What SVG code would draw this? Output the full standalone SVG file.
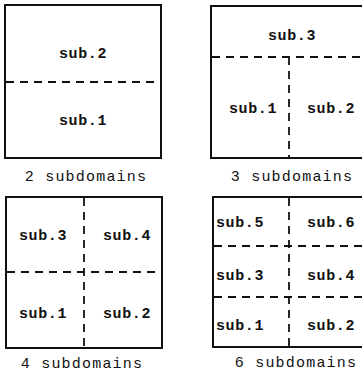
<svg xmlns="http://www.w3.org/2000/svg" width="362" height="375" viewBox="0 0 362 375">
<style>
.box{fill:#fff;stroke:#111;stroke-width:2}
.div{fill:none;stroke:#111;stroke-width:1.8;stroke-dasharray:8 6}
.lab{font-family:"Liberation Mono","Courier New",monospace;font-weight:bold;font-size:15px;text-anchor:middle;fill:#111;letter-spacing:0.6px}
.cap{font-family:"Liberation Mono","Courier New",monospace;font-size:15px;text-anchor:middle;fill:#111;letter-spacing:1.2px}
</style>
<rect width="362" height="375" fill="#fff"/>
<g id="panel-2">
<rect class="box" x="5" y="5" width="156" height="153"/>
<text class="lab" x="83" y="58">sub.2</text>
<text class="lab" x="83" y="125">sub.1</text>
<text class="cap" x="86" y="181">2 subdomains</text>
</g>
<g id="panel-3">
<rect class="box" x="211" y="6" width="157" height="152"/>
<text class="lab" x="292" y="40">sub.3</text>
<text class="lab" x="253" y="113">sub.1</text>
<text class="lab" x="331" y="113">sub.2</text>
<text class="cap" x="292" y="181">3 subdomains</text>
</g>
<g id="panel-4">
<rect class="box" x="6" y="197" width="156" height="151"/>
<text class="lab" x="43" y="240">sub.3</text>
<text class="lab" x="127" y="240">sub.4</text>
<text class="lab" x="43" y="318">sub.1</text>
<text class="lab" x="127" y="318">sub.2</text>
<text class="cap" x="82" y="368">4 subdomains</text>
</g>
<g id="panel-6">
<rect class="box" x="213" y="197" width="155" height="150"/>
<text class="lab" x="240" y="227">sub.5</text>
<text class="lab" x="331" y="227">sub.6</text>
<text class="lab" x="240" y="280">sub.3</text>
<text class="lab" x="331" y="280">sub.4</text>
<text class="lab" x="240" y="330">sub.1</text>
<text class="lab" x="331" y="330">sub.2</text>
<text class="cap" x="296" y="367">6 subdomains</text>
</g>
<g id="connectors">
<line class="div" x1="6" y1="82" x2="160" y2="82"/>
<line class="div" x1="212" y1="57" x2="362" y2="57"/>
<line class="div" x1="289" y1="57" x2="289" y2="157"/>
<line class="div" x1="7" y1="272" x2="161" y2="272"/>
<line class="div" x1="84" y1="198" x2="84" y2="347"/>
<line class="div" x1="214" y1="246" x2="362" y2="246"/>
<line class="div" x1="214" y1="297" x2="362" y2="297"/>
<line class="div" x1="289" y1="198" x2="289" y2="346"/>
</g>
</svg>
